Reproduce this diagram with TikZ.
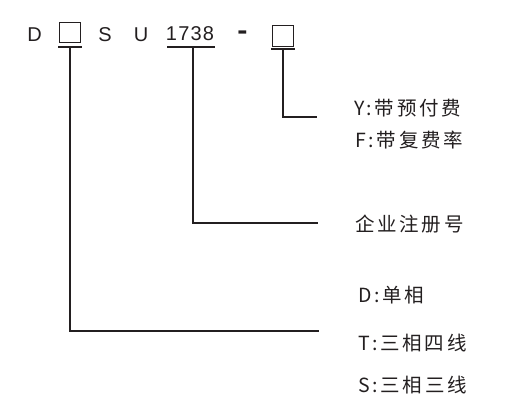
\documentclass[tikz,border=0pt]{standalone}
\usepackage{fontspec}
\setmainfont{Liberation Sans}
\newfontfamily\topfont[LetterSpace=6]{Liberation Sans}
\newfontfamily\cjk[LetterSpace=14]{Noto Sans CJK SC}
\definecolor{ink}{HTML}{231F20}
\begin{document}
\begin{tikzpicture}[x=1pt,y=1pt,
  top/.style={inner sep=0pt,text=ink,font=\topfont\fontsize{20}{20}\selectfont,anchor=base},
  lbl/.style={inner sep=0pt,text=ink,font=\cjk\fontsize{19.5}{19.5}\selectfont,anchor=west},
  ln/.style={draw=ink,line width=1.2pt},
  bx/.style={draw=ink,line width=1pt,minimum width=21pt,minimum height=20.5pt,inner sep=0pt}]
\useasboundingbox (0,0) rectangle (512,402);
% top row
\node[top] (d) at (34.5,360) {D};
\node[bx] (b1) at (70,369.5) {};
\node[top] (s) at (105,360) {S};
\node[top] (u) at (141,360) {U};
\node[top] (n) at (190,361) {1738};
\node[inner sep=0pt,text=ink] (dash) at (242.5,367) {\scalebox{1.7}[1.5]{\bfseries\fontsize{18}{18}\selectfont -}};
\node[bx] (b2) at (283,366) {};
% underlines
\coordinate (u1l) at (58,355); \coordinate (u1r) at (82,355);
\coordinate (u2l) at (167,355); \coordinate (u2r) at (215,355);
\coordinate (u3l) at (271,353); \coordinate (u3r) at (295,353);
\draw[ln] (u1l) -- (u1r);
\draw[ln] (u2l) -- (u2r);
\draw[ln] (u3l) -- (u3r);
% labels
\node[lbl] (y) at (354,294) {Y:带预付费};
\node[lbl] (f) at (355,262) {F:带复费率};
\node[lbl] (q) at (355,178) {企业注册号};
\node[lbl] (dd) at (358,107) {D:单相};
\node[lbl] (t) at (358,59) {T:三相四线};
\node[lbl] (ss) at (358,17) {S:三相三线};
% connectors
\coordinate (c1) at (70,71); \coordinate (e1) at (319,71);
\coordinate (c2) at (193,179); \coordinate (e2) at (318,179);
\coordinate (c3) at (283,285); \coordinate (e3) at (317,285);
\draw[ln] (70,355) -- (c1) -- (e1);
\draw[ln] (193,355) -- (c2) -- (e2);
\draw[ln] (283,353) -- (c3) -- (e3);
\end{tikzpicture}
\end{document}
